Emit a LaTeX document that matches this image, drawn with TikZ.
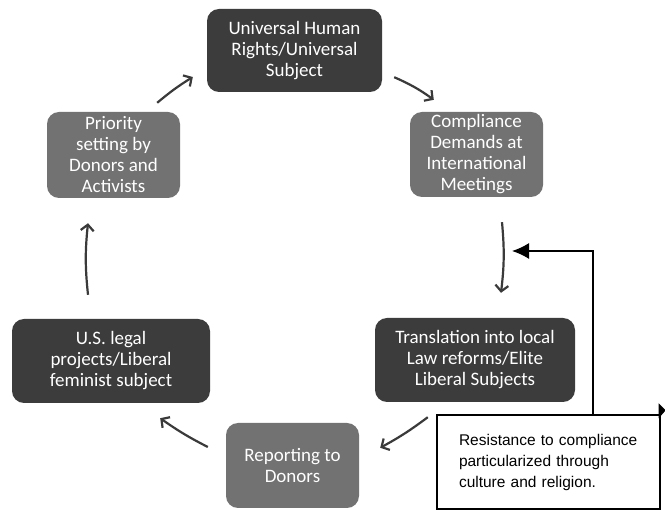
\documentclass[tikz,border=0pt]{standalone}
\usepackage{fontspec}
\setmainfont{Carlito}
\newfontfamily\calloutfont{Liberation Sans}
\usetikzlibrary{arrows.meta}
\definecolor{darkbox}{HTML}{3C3C3C}
\definecolor{lightbox}{HTML}{727272}
\definecolor{arrowgray}{HTML}{3A3A3A}
\begin{document}
\begin{tikzpicture}[x=1pt,y=-1pt,
  box/.style={rounded corners=12pt, text=white, align=center, inner sep=0pt,
    font=\fontsize{19}{21}\selectfont},
  darkstep/.style={box, fill=darkbox},
  lightstep/.style={box, fill=lightbox},
  flow/.style={draw=arrowgray, line width=2.2pt,
    -{Straight Barb[length=6pt,width=13pt]}},
  callout/.style={draw=black, line width=1.4pt, fill=white, align=left,
    text width=179pt, inner xsep=22pt, inner ysep=0pt,
    font=\calloutfont\fontsize{15.5}{21}\selectfont},
  pointer/.style={draw=black, line width=1.6pt,
    -{Latex[length=17pt,width=16pt]}}
]
\fill[white] (0,0) rectangle (665,510);
\useasboundingbox (0,0) rectangle (665,510);

\node[darkstep, minimum width=175pt, minimum height=83pt] (n1) at (294.5,50.5)
  {Universal Human\\Rights/Universal\\Subject};
\node[lightstep, minimum width=133pt, minimum height=85pt] (n2) at (476.5,154.5)
  {Compliance\\Demands at\\International\\Meetings};
\node[lightstep, minimum width=133pt, minimum height=86pt] (n3) at (113.5,155)
  {Priority\\setting by\\Donors and\\Activists};
\node[darkstep, minimum width=198pt, minimum height=84pt] (n4) at (111,361)
  {U.S. legal\\projects/Liberal\\feminist subject};
\node[lightstep, minimum width=133pt, minimum height=85pt] (n5) at (292.5,465.5)
  {Reporting to\\Donors};
\node[darkstep, minimum width=200pt, minimum height=84pt] (n6) at (475,360)
  {Translation into local\\Law reforms/Elite\\Liberal Subjects};

\draw[flow] ([shift={(12,-15)}]n1.south east) to[bend left=6] ([shift={(24,-12)}]n2.north west);
\draw[flow] ([shift={(25.5,25)}]n2.south) to[bend left=6] ([shift={(26,-25)}]n6.north);
\draw[flow] ([shift={(53,15)}]n6.south west) to[bend left=4] ([shift={(21,25)}]n5.north east);
\draw[flow] ([shift={(-18,-18.5)}]n5.west) to[bend left=4] ([shift={(-50,15)}]n4.south east);
\draw[flow] ([shift={(-23,-24)}]n4.north) to[bend left=6] ([shift={(-25.5,25)}]n3.south);
\draw[flow] ([shift={(-23,-9)}]n3.north east) to[bend left=4] ([shift={(-14,26.5)}]n1.west);

\node[callout, minimum width=223pt, minimum height=94pt] (note) at (548.5,462)
  {Resistance to compliance\\particularized through\\culture and religion.};
\coordinate (tip) at (512,251);
\draw[pointer] ([xshift=44.5pt]note.north) |- (tip);
\fill[black] ([shift={(-2,-11)}]note.north east) -- ++(7,7) -- ++(-7,8) -- cycle;
\end{tikzpicture}
\end{document}
